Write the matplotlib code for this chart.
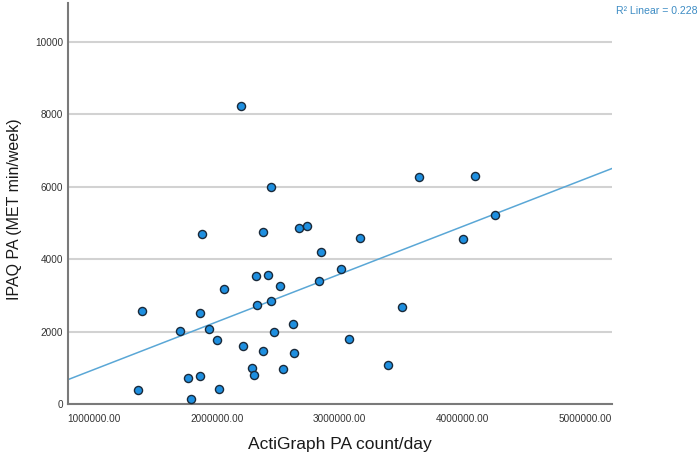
import numpy as np
import matplotlib.pyplot as plt

# ===========================
# Dados
# ===========================
actigraph = [1361000, 1389000, 1698000, 1768000, 1788000, 1864000, 1864000, 1877000,
             1940000, 2000000, 2020000, 2062000, 2195000, 2211000, 2287000, 2306000,
             2320000, 2325000, 2380000, 2380000, 2415000, 2440000, 2440000, 2466000,
             2515000, 2537000, 2621000, 2632000, 2673000, 2735000, 2833000, 2852000,
             3010000, 3075000, 3167000, 3392000, 3509000, 3645000, 4009000, 4106000,
             4264000]
ipaq = [387, 2556, 2019, 730, 149, 786, 2509, 4686,
        2066, 1781, 415, 3164, 8226, 1604, 996, 794,
        3524, 2749, 4741, 1458, 3569, 5986, 2849, 1983,
        3264, 960, 2224, 1402, 4860, 4915, 3402, 4204,
        3717, 1790, 4600, 1079, 2675, 6279, 4547, 6307,
        5211]
x_ticks = [1000000, 2000000, 3000000, 4000000, 5000000]
y_ticks = [0, 2000, 4000, 6000, 8000, 10000]
r2_label = "R\u00b2 Linear = 0.228"

plt.rcParams['font.family'] = ['Liberation Sans', 'DejaVu Sans']

fig = plt.figure(figsize=(7, 4.54), dpi=100)
ax = fig.add_axes([68 / 700, 1 - 404 / 454, (612 - 68) / 700, (404 - 3) / 454])

xlim = (788000, 5220000)
ax.set_xlim(*xlim)
ax.set_ylim(0, 11080)

# grade horizontal
ax.set_yticks(y_ticks)
ax.set_xticks(x_ticks)
ax.yaxis.grid(True, color='#d2d2d2', linewidth=1.5)
ax.set_axisbelow(True)

# reta de regressão
x = np.array(actigraph, dtype=float)
y = np.array(ipaq, dtype=float)
coef = np.polyfit(x, y, 1)
xx = np.array(xlim)
ax.plot(xx, np.polyval(coef, xx), color='#5aa7d6', linewidth=1.1, zorder=2)

ax.scatter(x, y, s=34, facecolor='#1e8fe0', edgecolor='#1a2a3a', linewidth=1.0, zorder=3)

for s in ['top', 'right']:
    ax.spines[s].set_visible(False)
for s in ['left', 'bottom']:
    ax.spines[s].set_color('#7a7a7a')
    ax.spines[s].set_linewidth(1.5)

ax.set_xticklabels([f"{v:.2f}" for v in x_ticks])
ax.set_yticklabels([str(v) for v in y_ticks])
ax.tick_params(length=0, labelsize=7.2, labelcolor='#333333')
ax.tick_params(axis='x', pad=7)
ax.tick_params(axis='y', pad=3.5)

# rótulos dos eixos
fig.text(340 / 700, 1 - 444 / 454, "ActiGraph PA count/day", ha='center', va='center',
         fontsize=12.5, color='#1a1a1a')
fig.text(15 / 700, 1 - 209 / 454, "IPAQ PA (MET min/week)", ha='center', va='center',
         rotation=90, fontsize=11.5, color='#1a1a1a')

fig.text(698 / 700, 1 - 11 / 454, r2_label, ha='right', va='center',
         fontsize=7.6, color='#3d8cc4')

fig.savefig("out.png", dpi=100)
